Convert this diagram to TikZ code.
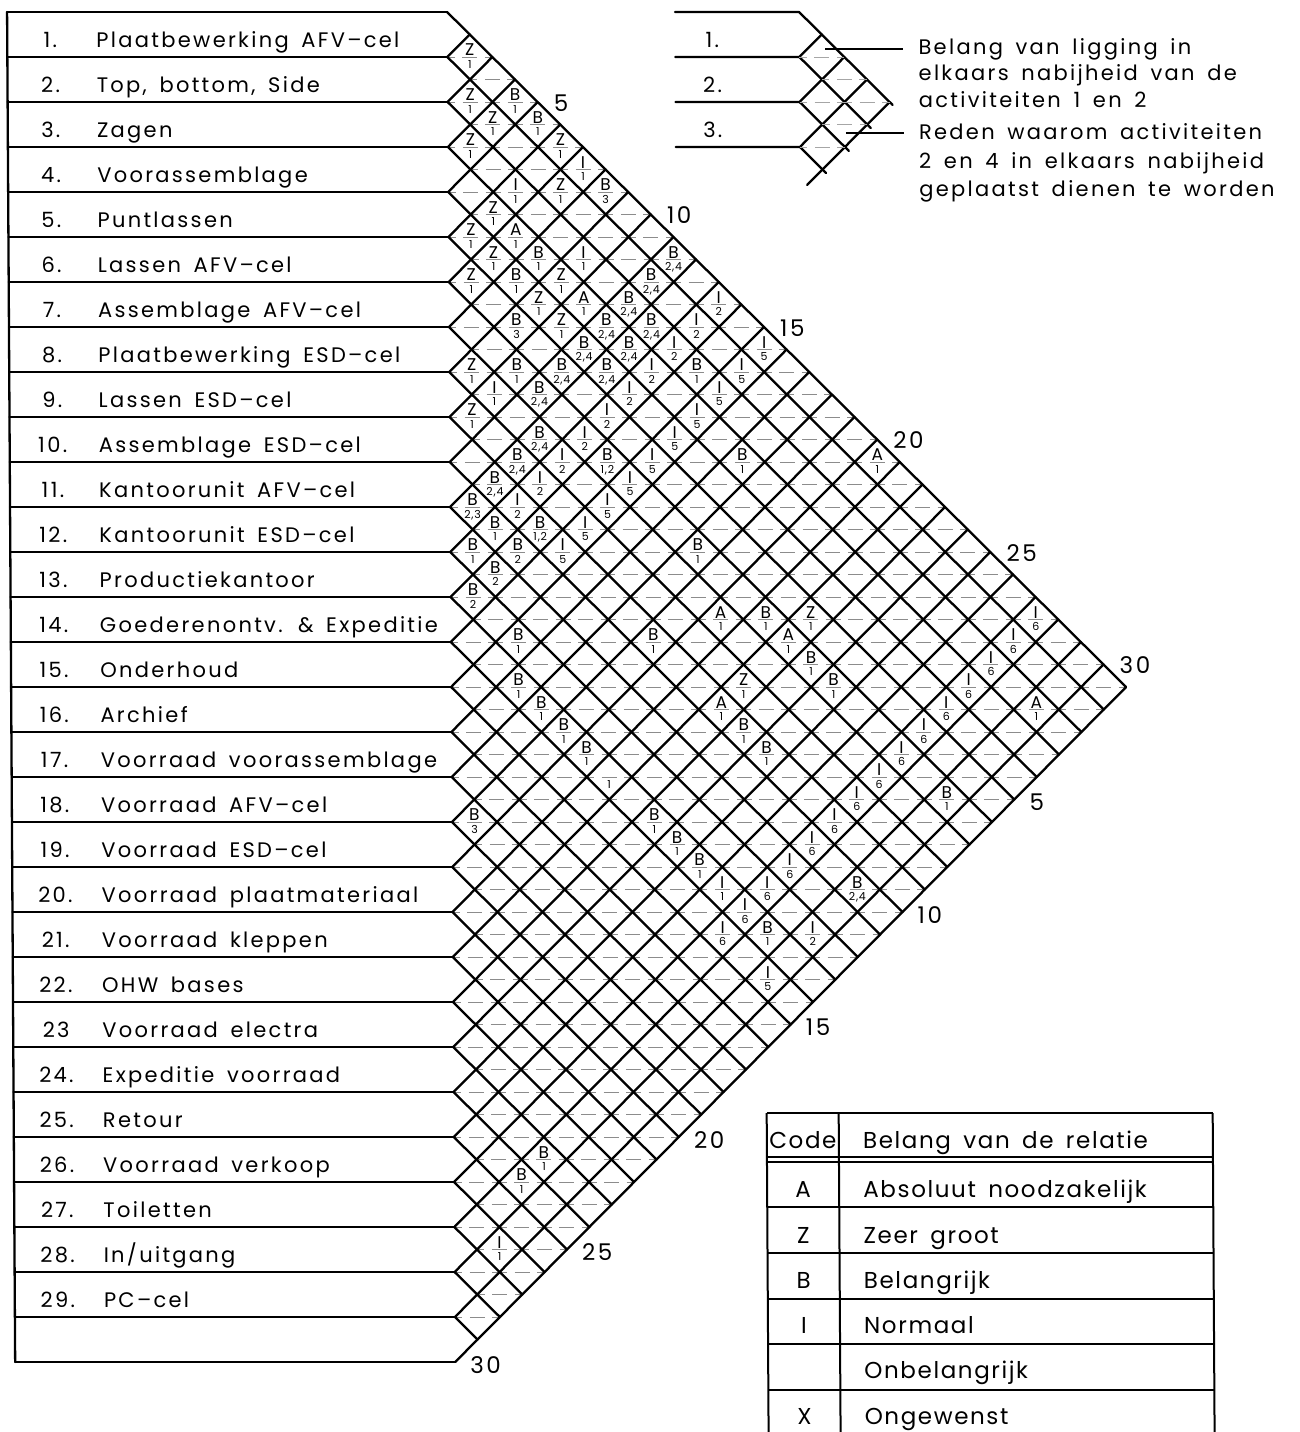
\documentclass[tikz,border=0pt]{standalone}
\usepackage{fontspec}
\newfontfamily\cadfont[LetterSpace=11,WordSpace=1.6]{Poppins}
\newfontfamily\cadtab[LetterSpace=7,WordSpace=1.6]{Poppins}
\newcommand\rowlabel[3]{%
  \node[lbl,anchor=base] (n#1) at (50,{45*#1+2}) {#2};
  \node[lbl,anchor=base west] (t#1) at (96,{45*#1+2}) {#3};}
\begin{document}
\begin{tikzpicture}[x=1pt,y=-1pt,
  gridln/.style={line width=2.3pt,line cap=round,line join=round},
  dashln/.style={line width=1pt,black!45,dash pattern=on 15pt off 7.5pt,dash phase=7.5pt},
  thinln/.style={line width=1.3pt},
  tabln/.style={line width=2pt},
  lbl/.style={font=\cadfont\fontsize{21}{25}\selectfont,inner sep=0pt},
  scl/.style={font=\cadfont\fontsize{23}{27}\selectfont,inner sep=0pt},
  tab/.style={font=\cadtab\fontsize{23}{27}\selectfont,inner sep=0pt},
  cellL/.style={font=\cadtab\fontsize{17}{20}\selectfont,inner sep=0pt,anchor=base},
  cellN/.style={font=\cadtab\fontsize{11}{13}\selectfont,inner sep=0pt,anchor=base}]
\useasboundingbox (0,0) rectangle (1300,1432);
\begin{scope}[xslant=-0.006]
% ---------- label boxes ----------
\draw[gridln] (7,12) -- (7,1362);
\foreach \k in {0,...,30}{
  \pgfmathsetmacro\yb{12+45*\k}
  \draw[gridln] (7,\yb) -- (447,\yb);
}
% ---------- dashed centre lines ----------
\foreach \m in {2,...,58}{
  \pgfmathsetmacro\yy{12+22.5*\m}
  \pgfmathsetmacro\xs{isodd(\m) ? 469.5 : 447}
  \pgfmathsetmacro\xe{447+min(\yy-12,1362-\yy)}
  \draw[dashln] (\xs,\yy) -- (\xe,\yy);
}
% ---------- diagonal grid ----------
\foreach \k in {0,...,29}{
  \pgfmathsetmacro\yb{12+45*\k}
  \pgfmathsetmacro\t{(1362-\yb)/2}
  \draw[gridln] (447,\yb) -- ++(\t,\t);
}
\foreach \k in {1,...,30}{
  \pgfmathsetmacro\yb{12+45*\k}
  \pgfmathsetmacro\t{(\yb-12)/2}
  \draw[gridln] (447,\yb) -- ++(\t,-\t);
}
% ---------- row labels ----------
\rowlabel{1}{1.}{Plaatbewerking AFV–cel}
\rowlabel{2}{2.}{Top, bottom, Side}
\rowlabel{3}{3.}{Zagen}
\rowlabel{4}{4.}{Voorassemblage}
\rowlabel{5}{5.}{Puntlassen}
\rowlabel{6}{6.}{Lassen AFV–cel}
\rowlabel{7}{7.}{Assemblage AFV–cel}
\rowlabel{8}{8.}{Plaatbewerking ESD–cel}
\rowlabel{9}{9.}{Lassen ESD–cel}
\rowlabel{10}{10.}{Assemblage ESD–cel}
\rowlabel{11}{11.}{Kantoorunit AFV–cel}
\rowlabel{12}{12.}{Kantoorunit ESD–cel}
\rowlabel{13}{13.}{Productiekantoor}
\rowlabel{14}{14.}{Goederenontv. \& Expeditie}
\rowlabel{15}{15.}{Onderhoud}
\rowlabel{16}{16.}{Archief}
\rowlabel{17}{17.}{Voorraad voorassemblage}
\rowlabel{18}{18.}{Voorraad AFV–cel}
\rowlabel{19}{19.}{Voorraad ESD–cel}
\rowlabel{20}{20.}{Voorraad plaatmateriaal}
\rowlabel{21}{21.}{Voorraad kleppen}
\rowlabel{22}{22.}{OHW bases}
\rowlabel{23}{23}{Voorraad electra}
\rowlabel{24}{24.}{Expeditie voorraad}
\rowlabel{25}{25.}{Retour}
\rowlabel{26}{26.}{Voorraad verkoop}
\rowlabel{27}{27.}{Toiletten}
\rowlabel{28}{28.}{In/uitgang}
\rowlabel{29}{29.}{PC–cel}
% ---------- scale numbers ----------
\foreach \k in {5,10,...,30}{
  \node[scl,anchor=west] (u\k) at ({447+22.5*(\k-1)+16},{12+22.5*(\k-1)+1}) {\k};
  \node[scl,anchor=west] (d\k) at ({447+22.5*(30-\k)+15},{12+22.5*(\k+30)+3}) {\k};
}
% ---------- cell entries ----------
\foreach \i/\j/\L/\N in {1/2/Z/1,2/3/Z/1,1/4/B/1,2/4/Z/1,1/5/B/1,3/4/Z/1,1/6/Z/1,1/7/I/1,
  3/6/I/1,2/7/Z/1,1/8/B/3,4/6/Z/1,5/6/Z/1,4/7/A/1,5/7/Z/1,4/8/B/1,3/9/I/1,1/11/B/{2,4},
  6/7/Z/1,5/8/B/1,4/9/Z/1,2/11/B/{2,4},5/9/Z/1,4/10/A/1,3/11/B/{2,4},1/13/I/2,
  6/9/B/3,5/10/Z/1,4/11/B/{2,4},3/12/B/{2,4},2/13/I/2,5/11/B/{2,4},4/12/B/{2,4},3/13/I/2,
  1/15/I/5,8/9/Z/1,7/10/B/1,6/11/B/{2,4},5/12/B/{2,4},4/13/I/2,3/14/B/1,2/15/I/5,
  8/10/I/1,7/11/B/{2,4},5/13/I/2,3/15/I/5,9/10/Z/1,6/13/I/2,4/15/I/5,8/12/B/{2,4},
  7/13/I/2,5/15/I/5,9/12/B/{2,4},8/13/I/2,7/14/B/{1,2},6/15/I/5,4/17/B/1,1/20/A/1,
  10/12/B/{2,4},9/13/I/2,7/15/I/5,11/12/B/{2,3},10/13/I/2,8/15/I/5,11/13/B/1,
  10/14/B/{1,2},9/15/I/5,12/13/B/1,11/14/B/2,10/15/I/5,7/18/B/1,12/14/B/2,13/14/B/2,
  8/20/A/1,7/21/B/1,6/22/Z/1,13/16/B/1,10/19/B/1,7/22/A/1,7/23/B/1,14/17/B/1,9/22/Z/1,
  7/24/B/1,14/18/B/1,10/22/A/1,3/29/A/1,14/19/B/1,10/23/B/1,14/20/B/1,10/24/B/1,
  7/29/B/1,18/19/B/3,14/23/B/1,14/24/B/1,14/25/B/1,14/26/I/1,11/29/B/{2,4},14/28/B/1,
  13/29/I/2,15/29/I/5,24/28/B/1,25/28/B/1,27/29/I/1}{
  \pgfmathsetmacro\cx{447+22.5*(\j-\i)}
  \pgfmathsetmacro\cy{12+22.5*(\i+\j-1)}
  \node[cellL] (a-\i-\j) at (\cx,\cy-1.5) {\L};
  \node[cellN] (r-\i-\j) at (\cx,\cy+11) {\N};
}
\foreach \i in {1,...,15}{
  \pgfmathsetmacro\cx{447+22.5*(27-\i)}
  \pgfmathsetmacro\cy{12+22.5*(\i+26)}
  \node[cellL] (a-\i-27) at (\cx,\cy-1.5) {I};
  \node[cellN] (r-\i-27) at (\cx,\cy+11) {6};
}
\node[cellN] (r-14-21) at ({447+22.5*7},{12+22.5*34+11}) {1};
% ---------- key (top right) ----------
\draw[gridln] (675,12) -- (799,12) -- (892,105);
\draw[gridln] (675,57) -- (799,57) -- (821.5,34.5);
\draw[gridln] (799,57) -- (870,128);
\draw[gridln] (675,102) -- (799,102) -- (844,57);
\draw[gridln] (799,102) -- (848,151);
\draw[gridln] (675,147) -- (799,147) -- (866.5,79.5);
\draw[gridln] (799,147) -- (825,173);
\draw[gridln] (806,185) -- (889,102);
\draw[dashln,black!35] (799,57) -- (844,57);
\draw[dashln,black!35] (821.5,79.5) -- (866.5,79.5);
\draw[dashln,black!35] (799,102) -- (889,102);
\draw[dashln,black!35] (821.5,124.5) -- (866.5,124.5);
\draw[dashln,black!35] (799,147) -- (844,147);
\node[lbl,anchor=base] (k1) at (712,47) {1.};
\node[lbl,anchor=base] (k2) at (712,92) {2.};
\node[lbl,anchor=base] (k3) at (712,137) {3.};
\coordinate (p1) at (825,49);
\coordinate (p2) at (845,133);
\node[lbl,anchor=base west] (e1) at (918,54) {Belang van ligging in};
\node[lbl,anchor=base west] (e2) at (918,80) {elkaars nabijheid van de};
\node[lbl,anchor=base west] (e3) at (918,107) {activiteiten 1 en 2};
\node[lbl,anchor=base west] (e4) at (918,139) {Reden waarom activiteiten};
\node[lbl,anchor=base west] (e5) at (918,168) {2 en 4 in elkaars nabijheid};
\node[lbl,anchor=base west] (e6) at (918,196) {geplaatst dienen te worden};
\draw[thinln] (p1) -- (903,49);
\draw[thinln] (p2) -- (903,133);
% ---------- code table ----------
\foreach \y in {1113,1157,1162,1207,1253,1299,1344,1390}{
  \draw[tabln] (760,\y) -- (1206,\y);
}
\foreach \x in {760,832,1206}{
  \draw[tabln] (\x,1113) -- (\x,1440);
}
\node[tab,anchor=base] (h1) at (796,1148) {Code};
\node[tab,anchor=base west] (h2) at (856,1148) {Belang van de relatie};
\node[tab,anchor=base] (c1) at (796,1197) {A};
\node[tab,anchor=base west] (b1) at (856,1197) {Absoluut noodzakelijk};
\node[tab,anchor=base] (c2) at (796,1243) {Z};
\node[tab,anchor=base west] (b2) at (856,1243) {Zeer groot};
\node[tab,anchor=base] (c3) at (796,1288) {B};
\node[tab,anchor=base west] (b3) at (856,1288) {Belangrijk};
\node[tab,anchor=base] (c4) at (796,1333) {I};
\node[tab,anchor=base west] (b4) at (856,1333) {Normaal};
\node[tab,anchor=base west] (b5) at (856,1378) {Onbelangrijk};
\node[tab,anchor=base] (c6) at (796,1424) {X};
\node[tab,anchor=base west] (b6) at (856,1424) {Ongewenst};
\end{scope}
\end{tikzpicture}
\end{document}
